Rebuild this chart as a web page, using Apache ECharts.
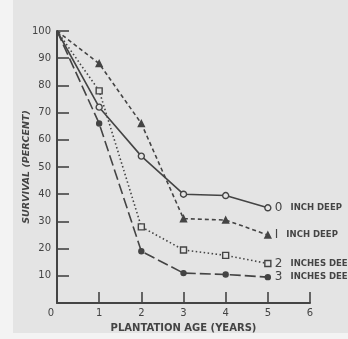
<!DOCTYPE html>
<html><head><meta charset="utf-8">
<script src="https://cdn.jsdelivr.net/npm/echarts@6/dist/echarts.min.js"></script>
<style>html,body{margin:0;padding:0;background:#f3f3f3}#c{width:348px;height:339px}</style>
</head><body><div id="c"></div>
<script>
const ages = [0, 1, 2, 3, 4, 5];
const inch0 = [100, 72, 54, 40, 39.5, 35];
const inch1 = [100, 88, 66, 31, 30.5, 25];
const inch2 = [100, 78, 28, 19.5, 17.5, 14.5];
const inch3 = [100, 66, 19, 11, 10.5, 9.5];
const seriesNums = ['0', 'I', '2', '3'];
const seriesNames = ['INCH DEEP', 'INCH DEEP', 'INCHES DEEP', 'INCHES DEEP'];
const xTicks = [0, 1, 2, 3, 4, 5, 6];
const yTicks = [0, 10, 20, 30, 40, 50, 60, 70, 80, 90, 100];

const ink = '#444444';
const bg = '#e4e4e4';
const font = 'DejaVu Sans';

function mk(vals, idx, symbol, filled, dash, size) {
  return {
    type: 'line',
    data: ages.map((a, i) => i === 0 ? {value: [a, vals[i]], symbol: 'none'} : [a, vals[i]]),
    symbol: symbol,
    symbolSize: size,
    lineStyle: {color: ink, width: 1.6, type: dash},
    itemStyle: {color: filled ? ink : bg, borderColor: ink, borderWidth: 1.4},
    z: 3,
    endLabel: {
      show: true,
      distance: 7,
      formatter: () => '{n|' + seriesNums[idx] + '}{t|' + seriesNames[idx] + '}',
      rich: {
        n: {fontFamily: font, fontSize: 12, color: ink, padding: [0, 8, 0, 0]},
        t: {fontFamily: font, fontSize: 8.5, fontWeight: 'bold', color: ink}
      }
    },
    emphasis: {disabled: true}
  };
}

const chart = echarts.init(document.getElementById('c'));
chart.setOption({
  animation: false,
  backgroundColor: 'transparent',
  graphic: [{type: 'rect', z: -10, shape: {x: 13, y: 0, width: 335, height: 333}, style: {fill: bg}}],
  grid: {left: 57, right: 38, top: 31, bottom: 36},
  xAxis: {
    type: 'value', min: 0, max: 6, interval: 1,
    name: 'PLANTATION AGE (YEARS)', nameLocation: 'middle', nameGap: 20,
    nameTextStyle: {fontFamily: font, fontSize: 10, fontWeight: 'bold', color: ink},
    axisLine: {lineStyle: {color: ink, width: 2}},
    axisTick: {inside: true, length: 11, lineStyle: {color: ink, width: 1.6}},
    splitLine: {show: false},
    axisLabel: {
      fontFamily: font, fontSize: 10, color: ink, margin: 5,
      formatter: v => v === 0 ? '{z|0}' : (xTicks.includes(v) ? String(v) : ''),
      rich: {z: {fontFamily: font, fontSize: 10, color: ink, padding: [0, 12, 0, 0]}}
    }
  },
  yAxis: {
    type: 'value', min: 0, max: 100, interval: 10,
    name: 'SURVIVAL (PERCENT)', nameLocation: 'middle', nameGap: 25, nameMoveOverlap: false,
    nameTextStyle: {fontFamily: font, fontSize: 9.5, fontWeight: 'bold', fontStyle: 'italic', color: ink},
    axisLine: {show: true, lineStyle: {color: ink, width: 2}},
    axisTick: {show: true, inside: true, length: 12, lineStyle: {color: ink, width: 1.6}},
    splitLine: {show: false},
    axisLabel: {
      fontFamily: font, fontSize: 10, color: ink, margin: 6,
      formatter: v => v === 0 ? '' : (yTicks.includes(v) ? String(v) : '')
    }
  },
  series: [
    mk(inch0, 0, 'circle', false, 'solid', 6),
    mk(inch1, 1, 'triangle', true, [4, 3], 6),
    mk(inch2, 2, 'rect', false, [1.5, 2.5], 6),
    mk(inch3, 3, 'circle', true, [11, 4], 5)
  ]
});
</script></body></html>
